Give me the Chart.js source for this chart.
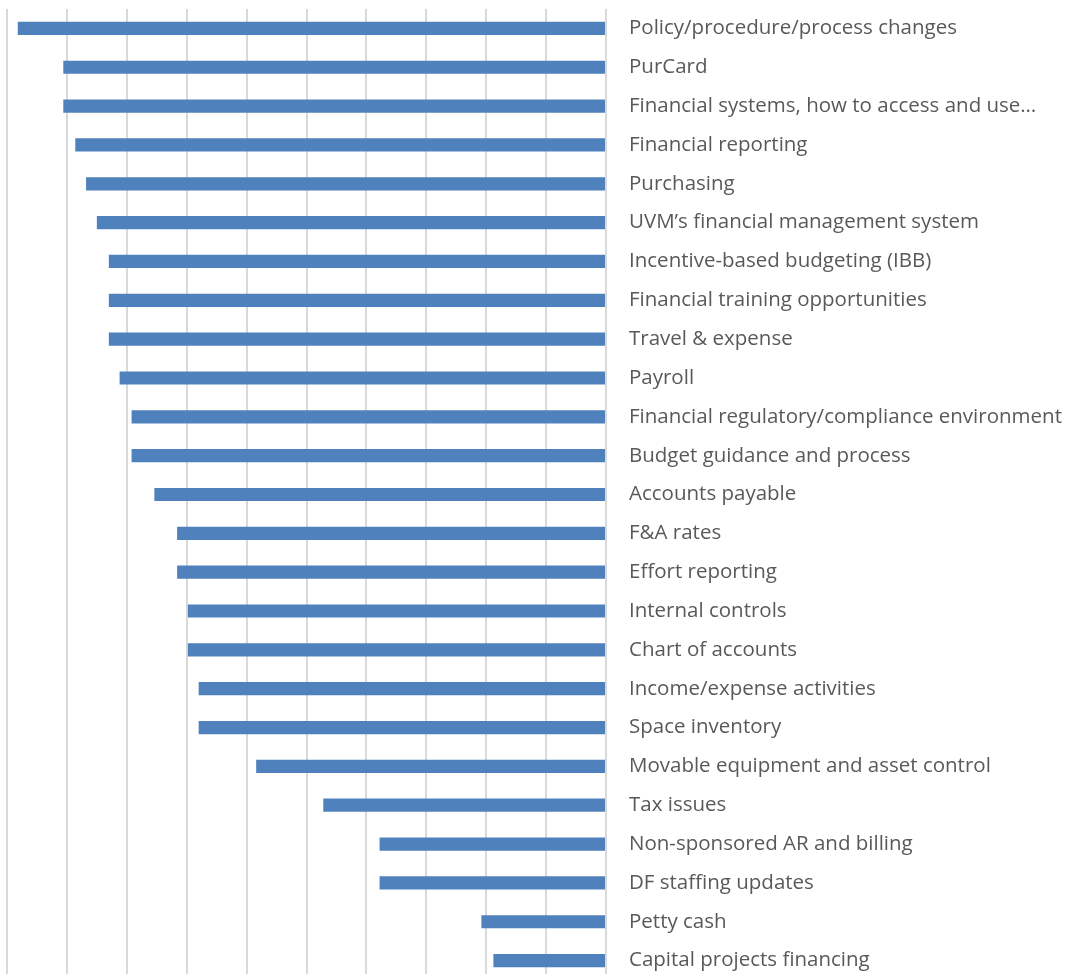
<!DOCTYPE html>
<html>
<head>
<meta charset="utf-8">
<script src="https://cdn.jsdelivr.net/npm/chart.js@4"></script>
<style>
  html, body { margin: 0; padding: 0; background: #ffffff; overflow: hidden; }
  #wrap { position: relative; width: 1065px; height: 980px; }
</style>
</head>
<body>
<div id="wrap"><canvas id="chart"></canvas></div>
<script>
// Topics, top to bottom
const categories = [
  "Policy/procedure/process changes",
  "PurCard",
  "Financial systems, how to access and use\u2026",
  "Financial reporting",
  "Purchasing",
  "UVM\u2019s financial management system",
  "Incentive-based budgeting (IBB)",
  "Financial training opportunities",
  "Travel & expense",
  "Payroll",
  "Financial regulatory/compliance environment",
  "Budget guidance and process",
  "Accounts payable",
  "F&A rates",
  "Effort reporting",
  "Internal controls",
  "Chart of accounts",
  "Income/expense activities",
  "Space inventory",
  "Movable equipment and asset control",
  "Tax issues",
  "Non-sponsored AR and billing",
  "DF staffing updates",
  "Petty cash",
  "Capital projects financing"
];

// Share of respondents (%)
const values = [
  49.1, 45.3, 45.3, 44.3, 43.4, 42.5, 41.5, 41.5, 41.5, 40.6,
  39.6, 39.6, 37.7, 35.8, 35.8, 34.9, 34.9, 34.0, 34.0, 29.2,
  23.6, 18.9, 18.9, 10.4, 9.4
];

// Value axis range
const axisMin = 0;
const axisMax = 50;
const axisStep = 5;

const labelFont = { family: "'Open Sans', Lato, sans-serif", size: 20.5 };

new Chart(document.getElementById("chart"), {
  type: "bar",
  data: {
    labels: categories,
    datasets: [{
      data: values,
      backgroundColor: "#4f81bd",
      borderWidth: 0,
      categoryPercentage: 1,
      barPercentage: 0.34
    }]
  },
  options: {
    indexAxis: "y",
    responsive: true,
    maintainAspectRatio: false,
    animation: false,
    layout: { padding: { left: 7, top: 9, right: 0, bottom: 0 } },
    plugins: { legend: { display: false }, tooltip: { enabled: false } },
    scales: {
      x: {
        reverse: true,
        min: axisMin,
        max: axisMax,
        ticks: { display: false, stepSize: axisStep },
        grid: { color: "#d9d9d9", lineWidth: 2, drawTicks: false },
        border: { display: false },
        afterFit: (s) => { s.height = 0; s.paddingLeft = 0; s.paddingRight = 0; }
      },
      y: {
        position: "right",
        grid: { display: false, drawTicks: false },
        border: { display: false },
        ticks: { color: "#595959", font: labelFont, padding: 23, autoSkip: false },
        afterFit: (s) => { s.width = 459; s.paddingTop = 0; s.paddingBottom = 0; }
      }
    }
  }
});
</script>
</body>
</html>
